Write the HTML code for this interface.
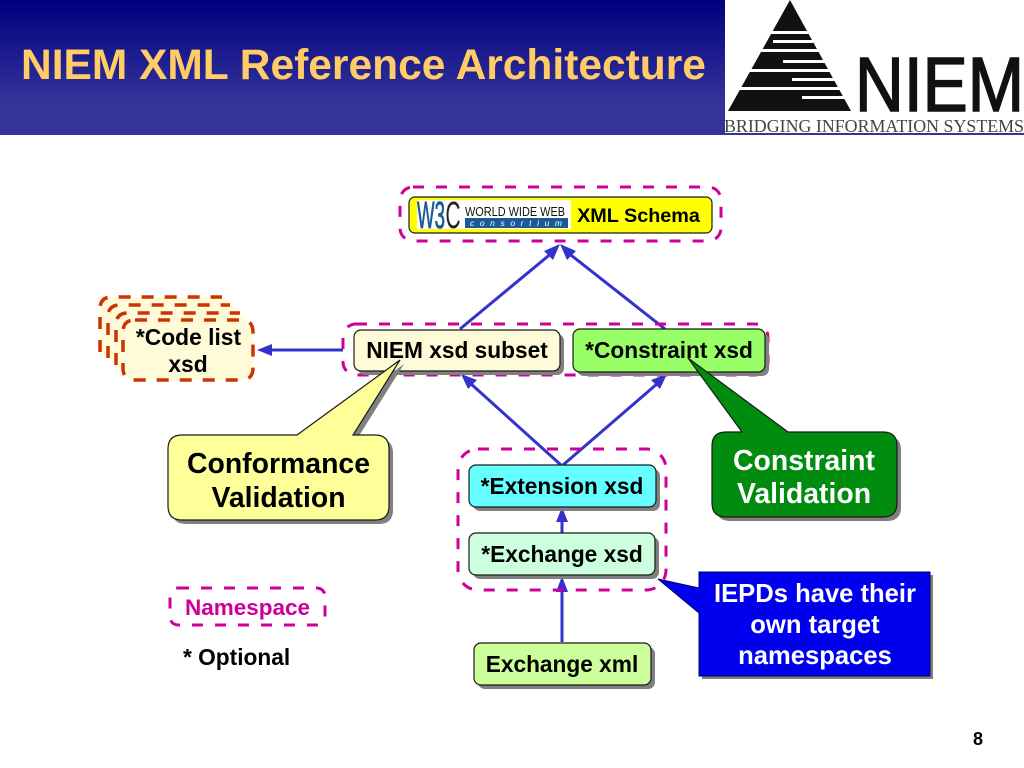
<!DOCTYPE html>
<html><head><meta charset="utf-8"><style>
html,body{margin:0;padding:0;background:#fff;width:1024px;height:768px;overflow:hidden}
svg{display:block}
text{font-family:"Liberation Sans",Arial,sans-serif;font-weight:bold;fill:#000;text-anchor:middle}
.ns{fill:none;stroke:#CC0099;stroke-width:3;stroke-dasharray:11 12}
.cl{fill:none;stroke:#CC3300;stroke-width:3.5;stroke-dasharray:12 11}
.ar{stroke:#3333CC;stroke-width:3;fill:none}
.hd{fill:#3333CC}
.bx{stroke:#1a1a1a;stroke-width:1.2}
.sh{fill:#808080}
</style></head><body>
<svg width="1024" height="768" viewBox="0 0 1024 768" xmlns="http://www.w3.org/2000/svg">
<defs><linearGradient id="g" x1="0" y1="0" x2="0" y2="1"><stop offset="0" stop-color="#000080"/><stop offset=".75" stop-color="#333399"/><stop offset="1" stop-color="#333399"/></linearGradient></defs>
<rect x="0" y="0" width="725" height="135" fill="url(#g)"/>
<text x="21" y="79" font-size="42.5" style="text-anchor:start;fill:#FFCC66">NIEM XML Reference Architecture</text>

<!-- logo -->
<polygon points="790,0 728,111 851,111" fill="#111"/>
<g fill="#fff">
<rect x="760" y="31" width="60" height="3"/>
<rect x="773" y="40" width="40" height="3"/>
<rect x="750" y="49" width="82" height="3"/>
<rect x="783" y="60" width="42" height="3"/>
<rect x="740" y="69" width="102" height="3"/>
<rect x="792" y="78" width="45" height="3"/>
<rect x="730" y="87" width="122" height="3"/>
<rect x="802" y="96" width="46" height="3"/>
</g>
<text x="855" y="111" font-size="77" stroke="#111" stroke-width="1.6" style="text-anchor:start;font-weight:normal;fill:#111" textLength="169" lengthAdjust="spacingAndGlyphs">NIEM</text>
<text x="724" y="132" font-size="18" style="text-anchor:start;font-weight:normal;font-family:'Liberation Serif',serif;fill:#444" textLength="300" lengthAdjust="spacingAndGlyphs">BRIDGING INFORMATION SYSTEMS</text>
<rect x="724" y="133" width="300" height="2" fill="#333399"/>

<!-- arrows -->
<path class="ar" d="M460 329L553 252M665 329L567 252M561 465L470 383M563 465L658 383M562 533V515M562 642V585M343 350H268"/>
<polygon class="hd" points="560,244 544,251 553,260"/>
<polygon class="hd" points="560,244 576,251 567,260"/>
<polygon class="hd" points="461,374 477,380 468,389"/>
<polygon class="hd" points="667,374 651,380 660,389"/>
<polygon class="hd" points="562,507 568,522 556,522"/>
<polygon class="hd" points="562,576 568,592 556,592"/>
<polygon class="hd" points="257,350 272,344 272,356"/>

<!-- namespaces -->
<rect class="ns" x="400" y="187" width="321" height="54" rx="13"/>
<rect class="ns" x="343" y="324" width="425" height="51" rx="13"/>
<rect class="ns" x="458" y="449" width="208" height="141" rx="20"/>
<rect class="ns" x="170" y="588" width="155" height="37" rx="8"/>

<!-- code list -->
<rect x="100" y="297" width="130" height="60" rx="10" fill="#FFFBD8"/>
<rect x="108" y="305" width="130" height="60" rx="10" fill="#FFFBD8"/>
<rect x="116" y="313" width="130" height="60" rx="10" fill="#FFFBD8"/>
<path class="cl" d="M100 352V309Q100 297 112 297H222"/>
<path class="cl" d="M108 358V317Q108 305 120 305H230"/>
<path class="cl" d="M116 365V325Q116 313 128 313H240"/>
<rect x="123" y="320" width="130" height="60" rx="12" fill="#FFFBD8"/>
<path class="cl" d="M135 320H241Q253 320 253 332V368Q253 380 241 380H135Q123 380 123 368V332Q123 320 135 320Z"/>
<text x="188.500" y="345" font-size="22.8">*Code list</text>
<text x="188" y="372" font-size="22.8">xsd</text>

<!-- W3C box -->
<rect class="bx" x="409" y="197" width="303" height="36" rx="6" fill="#FFFF00"/>
<rect x="417" y="200" width="154" height="29" fill="#fff"/>
<text x="431" y="228" font-size="38" stroke="#1a5a96" stroke-width=".8" style="font-weight:normal;fill:#1a5a96" textLength="28" lengthAdjust="spacingAndGlyphs">W3</text>
<text x="453" y="228" font-size="38" style="font-weight:normal;fill:#222" textLength="15" lengthAdjust="spacingAndGlyphs">C</text>
<text x="515" y="216" font-size="13" style="font-weight:normal;fill:#111" textLength="100" lengthAdjust="spacingAndGlyphs">WORLD WIDE WEB</text>
<rect x="465" y="218" width="103" height="10" fill="#1a5a96"/>
<text x="516" y="226" font-size="8.5" style="font-style:italic;font-weight:normal;fill:#fff" textLength="92">consortium</text>
<text x="638.500" y="222" font-size="19.800">XML Schema</text>

<!-- boxes -->
<rect class="sh" x="358" y="334" width="206" height="41" rx="7"/>
<rect class="bx" x="354" y="330" width="206" height="41" rx="7" fill="#FFFBD8"/>
<text x="457" y="358" font-size="22.700">NIEM xsd subset</text>

<rect class="sh" x="577" y="333" width="192" height="43" rx="7"/>
<rect class="bx" x="573" y="329" width="192" height="43" rx="7" fill="#99FF66"/>
<text x="669" y="358" font-size="22.700">*Constraint xsd</text>

<rect class="sh" x="473" y="469" width="187" height="42" rx="7"/>
<rect class="bx" x="469" y="465" width="187" height="42" rx="7" fill="#66FFFF"/>
<text x="562" y="494" font-size="22.700">*Extension xsd</text>

<rect class="sh" x="473" y="537" width="186" height="42" rx="7"/>
<rect class="bx" x="469" y="533" width="186" height="42" rx="7" fill="#CCFFDD"/>
<text x="562" y="562" font-size="22.700">*Exchange xsd</text>

<rect class="sh" x="478" y="647" width="177" height="42" rx="7"/>
<rect class="bx" x="474" y="643" width="177" height="42" rx="7" fill="#CCFF99"/>
<text x="562" y="672" font-size="22.700">Exchange xml</text>

<!-- callouts -->
<path class="sh" transform="translate(4,4)" d="M182 435H297L400 360L353 435H375Q389 435 389 449V506Q389 520 375 520H182Q168 520 168 506V449Q168 435 182 435Z"/>
<path class="bx" fill="#FFFF99" d="M182 435H297L400 360L353 435H375Q389 435 389 449V506Q389 520 375 520H182Q168 520 168 506V449Q168 435 182 435Z"/>
<text x="278.500" y="473" font-size="28.400">Conformance</text>
<text x="278.500" y="507" font-size="28.400">Validation</text>

<path class="sh" transform="translate(4,4)" d="M726 432H742L688 358L788 432H883Q897 432 897 446V503Q897 517 883 517H726Q712 517 712 503V446Q712 432 726 432Z"/>
<path class="bx" fill="#008C0F" d="M726 432H742L688 358L788 432H883Q897 432 897 446V503Q897 517 883 517H726Q712 517 712 503V446Q712 432 726 432Z"/>
<text x="804" y="470" font-size="28.400" style="fill:#fff">Constraint</text>
<text x="804" y="503" font-size="28.400" style="fill:#fff">Validation</text>

<path class="sh" transform="translate(3,3)" d="M699 572V588L658 579L699 613V676H930V572Z"/>
<path fill="#0000EE" stroke="#000066" stroke-width="1" d="M699 572V588L658 579L699 613V676H930V572Z"/>
<text x="815" y="602" font-size="25.600" style="fill:#fff">IEPDs have their</text>
<text x="815" y="633" font-size="25.600" style="fill:#fff">own target</text>
<text x="815" y="664" font-size="25.600" style="fill:#fff">namespaces</text>

<text x="247.500" y="615" font-size="22.500" style="fill:#CC0099">Namespace</text>
<text x="183" y="665" font-size="22.700" style="text-anchor:start">* Optional</text>
<text x="978" y="745" font-size="18">8</text>
</svg>
</body></html>
